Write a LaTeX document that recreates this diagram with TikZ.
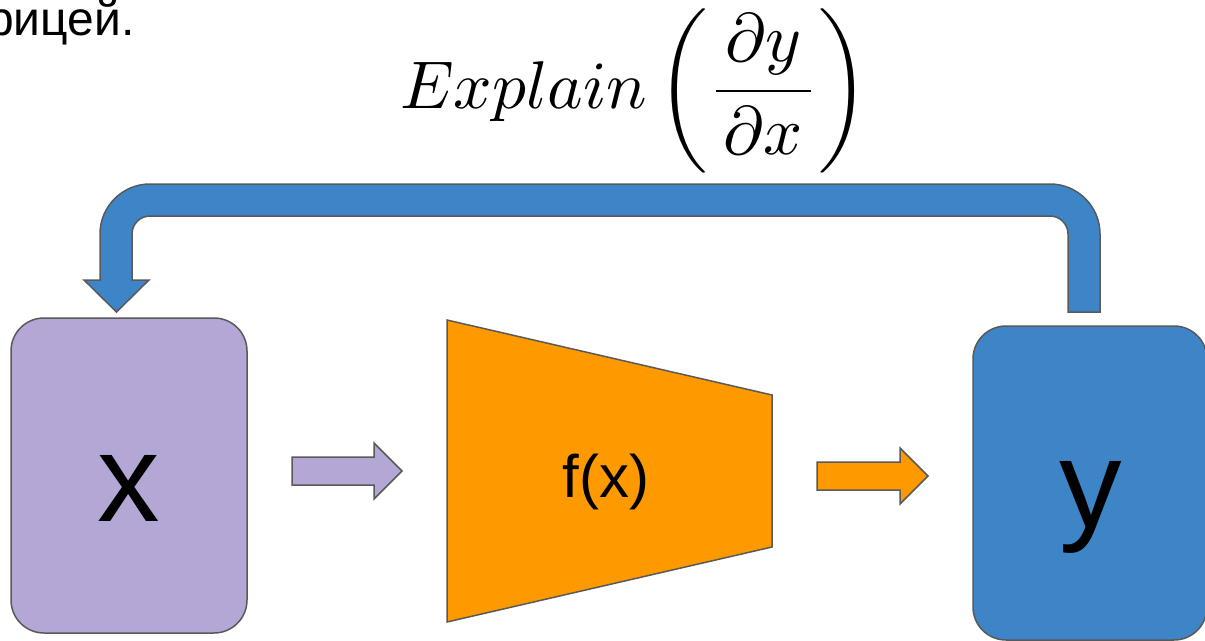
\documentclass[tikz,border=0pt]{standalone}
\usepackage{fontspec}
\setmainfont{Liberation Sans}
\newfontfamily\arialf{Liberation Sans}
\definecolor{boxpurple}{HTML}{B4A7D6}
\definecolor{boxblue}{HTML}{3D85C6}
\definecolor{boxorange}{HTML}{FF9900}
\definecolor{edgegrey}{HTML}{595959}
\tikzset{
  shapeedge/.style={draw=edgegrey, line width=1.5pt, line join=miter},
  roundbox/.style={shapeedge, rounded corners=33pt, inner sep=0pt},
  bigletter/.style={anchor=base, inner sep=0pt, font=\arialf\fontsize{125}{150}\selectfont},
}
\begin{document}
\begin{tikzpicture}[x=1pt,y=-1pt]
\useasboundingbox (0,0) rectangle (1205,640);
% fragment of text at top left
\node[anchor=base west, inner sep=0pt, font=\arialf\fontsize{48}{58}\selectfont] (frag) at (-13,35) {рицей.};
% formula
\node[anchor=base west, inner sep=0pt] (formula) at (400,108)
  {\scalebox{6.75}{$Explain$}\hspace{10pt}\scalebox{6.85}{$\displaystyle\left(\frac{\mkern2mu\partial y\mkern2mu}{\mkern2mu\partial x\mkern2mu}\right)$}};
% boxes
\node[roundbox, fill=boxpurple, minimum width=236pt, minimum height=315pt] (xbox) at (129,475.5) {};
\node[roundbox, fill=boxblue, minimum width=234pt, minimum height=314pt] (ybox) at (1090,483) {};
\node[bigletter] (xlabel) at (128.5,521) {x};
\node[bigletter] (ylabel) at (1091,527) {y};
% trapezoid f(x)
\draw[shapeedge, fill=boxorange] (447,320) -- (772,395) -- (772,547) -- (447,622) -- cycle;
\node[anchor=base, inner sep=0pt, font=\arialf\fontsize{60}{72}\selectfont] (flabel) at (606,497) {f(x)};
% small block arrows
\draw[shapeedge, fill=boxpurple] (292,457) -- (374,457) -- (374,443) -- (402,471) -- (374,499) -- (374,485) -- (292,485) -- cycle;
\draw[shapeedge, fill=boxorange] (817,462) -- (900,462) -- (900,448) -- (928,476) -- (900,504) -- (900,490) -- (817,490) -- cycle;
% U-shaped feedback arrow
\draw[shapeedge, fill=boxblue]
  (1100,312) -- (1100,234) arc[start angle=0, end angle=90, radius=50pt]
  -- (150,184) arc[start angle=90, end angle=180, radius=50pt]
  -- (100,280) -- (84,280) -- (116.5,312) -- (149,280) -- (132,280)
  -- (132,234) arc[start angle=180, end angle=90, radius=18pt]
  -- (1050,216) arc[start angle=90, end angle=0, radius=18pt]
  -- (1068,312) -- cycle;
\end{tikzpicture}
\end{document}
